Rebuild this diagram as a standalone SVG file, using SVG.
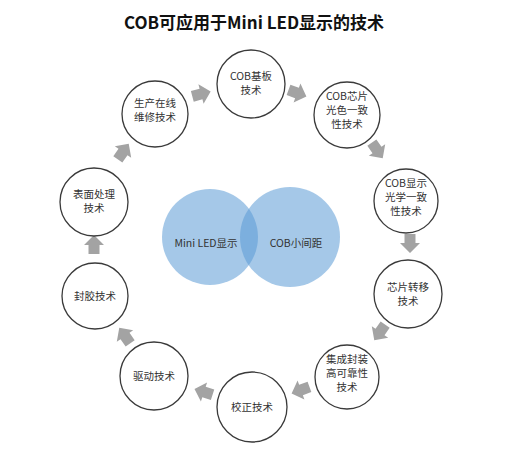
<svg xmlns="http://www.w3.org/2000/svg" width="513" height="458" viewBox="0 0 513 458">
<style>
.node circle{fill:#ffffff;stroke:#3a3a3a;stroke-width:1.3}
.node text,.venn text{font-family:"Noto Sans CJK SC","Noto Sans",sans-serif;font-size:10.5px;fill:#333;text-anchor:middle}
.title{font-family:"Noto Sans CJK SC","Noto Sans",sans-serif;font-size:17px;font-weight:bold;fill:#111;text-anchor:middle}
.arr{fill:#a3a3a3}
.venn circle{fill:#5b9bd5;fill-opacity:0.55}
</style>
<defs>
<path id="ar" d="M-9,-5.5 L0,-5.5 L0,-10 L10,0 L0,10 L0,5.5 L-9,5.5 Z"/>
</defs>
<rect width="513" height="458" fill="#ffffff"/>
<text class="title" x="254" y="29">COB可应用于Mini LED显示的技术</text>

<g id="venn" class="venn">
<circle cx="210" cy="237" r="48"/>
<circle cx="290" cy="237" r="50"/>
<text x="206" y="247">Mini LED显示</text>
<text x="296" y="247">COB小间距</text>
</g>

<g id="connectors">
<use href="#ar" class="arr" transform="translate(201,94) rotate(-15)"/>
<use href="#ar" class="arr" transform="translate(297,93) rotate(20)"/>
<use href="#ar" class="arr" transform="translate(377,150) rotate(55)"/>
<use href="#ar" class="arr" transform="translate(410,243) rotate(90)"/>
<use href="#ar" class="arr" transform="translate(380,332) rotate(125)"/>
<use href="#ar" class="arr" transform="translate(301,390) rotate(160)"/>
<use href="#ar" class="arr" transform="translate(204,392) rotate(198)"/>
<use href="#ar" class="arr" transform="translate(125,336) rotate(235)"/>
<use href="#ar" class="arr" transform="translate(94,245) rotate(270)"/>
<use href="#ar" class="arr" transform="translate(123,152) rotate(-55)"/>
</g>

<g id="n1" class="node"><circle cx="251" cy="84" r="34"/><text x="251" y="80">COB基板</text><text x="251" y="94">技术</text></g>
<g id="n2" class="node"><circle cx="347" cy="115" r="33"/><text x="347" y="100">COB芯片</text><text x="347" y="114">光色一致</text><text x="347" y="128">性技术</text></g>
<g id="n3" class="node"><circle cx="406" cy="201" r="32"/><text x="406" y="187">COB显示</text><text x="406" y="201">光学一致</text><text x="406" y="215">性技术</text></g>
<g id="n4" class="node"><circle cx="408" cy="294" r="34"/><text x="408" y="291">芯片转移</text><text x="408" y="305">技术</text></g>
<g id="n5" class="node"><circle cx="347" cy="377" r="32"/><text x="347" y="363">集成封装</text><text x="347" y="377">高可靠性</text><text x="347" y="391">技术</text></g>
<g id="n6" class="node"><circle cx="252" cy="407" r="35"/><text x="252" y="411">校正技术</text></g>
<g id="n7" class="node"><circle cx="154" cy="376" r="34"/><text x="154" y="380">驱动技术</text></g>
<g id="n8" class="node"><circle cx="95" cy="296" r="33"/><text x="95" y="300">封胶技术</text></g>
<g id="n9" class="node"><circle cx="94" cy="202" r="34"/><text x="94" y="198">表面处理</text><text x="94" y="212">技术</text></g>
<g id="n10" class="node"><circle cx="155" cy="114" r="33"/><text x="155" y="107">生产在线</text><text x="155" y="121">维修技术</text></g>
</svg>
